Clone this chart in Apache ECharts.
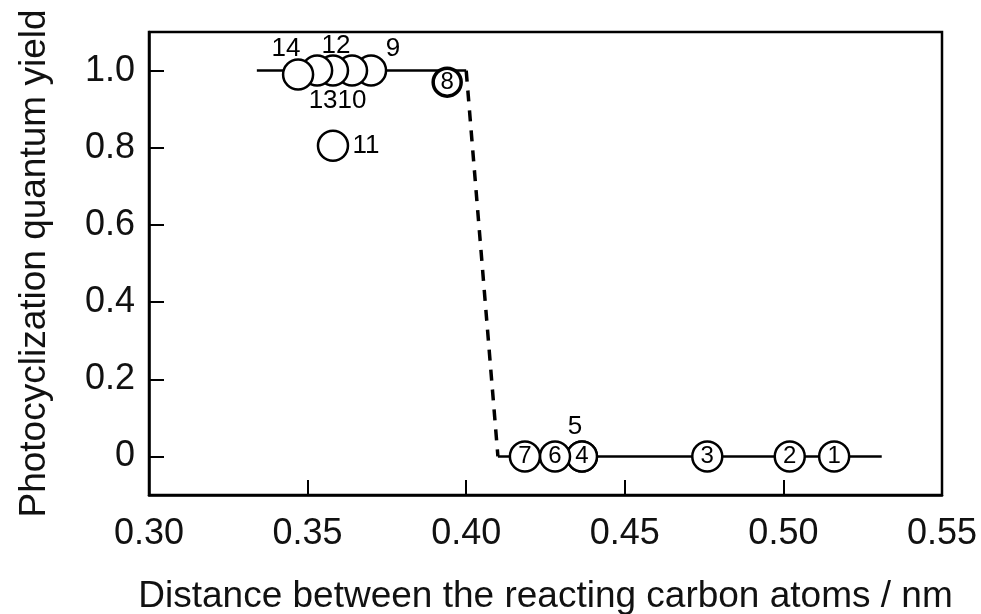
<!DOCTYPE html>
<html>
<head>
<meta charset="utf-8">
<script src="https://cdn.jsdelivr.net/npm/echarts@6/dist/echarts.min.js"></script>
<style>
html,body{margin:0;padding:0;background:#fff;}
#chart{width:981px;height:614px;}
</style>
</head>
<body>
<div id="chart"></div>
<script>
// ---- data ----
const compoundIds = ['14', '13', '12', '10', '9', '8', '11', '7', '6', '5', '4', '3', '2', '1'];
const distances   = [0.347, 0.353, 0.358, 0.364, 0.370, 0.394, 0.358, 0.4185, 0.428, 0.4365, 0.4365, 0.476, 0.502, 0.516];
const yields      = [0.99, 1.0, 1.0, 1.0, 1.0, 0.97, 0.805, 0, 0, 0, 0, 0, 0, 0];
// compounds whose number is written inside the circle
const numberedInside = ['8', '7', '6', '4', '3', '2', '1'];
// guide lines: solid upper, dashed drop, solid lower
const upperLine = [[0.334, 1.0], [0.400, 1.0]];
const dropLine  = [[0.400, 1.0], [0.410, 0.0]];
const lowerLine = [[0.410, 0.0], [0.531, 0.0]];
const xTicks = [0.30, 0.35, 0.40, 0.45, 0.50, 0.55];
const yTicks = [0, 0.2, 0.4, 0.6, 0.8, 1.0];

// ---- styling (label offsets for outside labels) ----
const labelOffsets = {
  '14': [-12, -26], '12': [3, -25], '9': [22, -22],
  '13': [6, 30], '10': [0, 30], '11': [33, 0], '5': [-7, -30]
};

const FONT = '"Liberation Sans", Arial, sans-serif';

const points = compoundIds.map((id, i) => ({ id, x: distances[i], y: yields[i] }));
// draw rightmost first so that left circles lie on top
points.sort((a, b) => b.x - a.x || (a.id === '5' ? -1 : 1));

const scatterData = points.map(p => {
  const inside = numberedInside.includes(p.id);
  return {
    name: p.id,
    value: [p.x, p.y],
    symbolSize: p.id === '8' ? 28 : 30,
    itemStyle: {
      color: '#fff',
      opacity: 1,
      borderColor: '#000',
      borderWidth: p.id === '8' ? 3.5 : 2.5
    },
    label: {
      show: true,
      formatter: p.id,
      position: 'inside',
      fontSize: inside ? 24 : 26,
      fontFamily: FONT,
      color: '#000',
      opacity: 1,
      offset: inside ? [0, 0] : (labelOffsets[p.id] || [0, 0])
    }
  };
});

const chart = echarts.init(document.getElementById('chart'), null, { renderer: 'canvas' });
chart.setOption({
  animation: false,
  backgroundColor: '#fff',
  grid: {
    left: 149, right: 39, top: 32, bottom: 119,
    outerBoundsMode: 'none',
    containLabel: false,
    show: true, borderColor: '#000', borderWidth: 2.5, backgroundColor: 'transparent'
  },
  xAxis: {
    type: 'value',
    min: 0.30, max: 0.55,
    name: 'Distance between the reacting carbon atoms / nm',
    nameLocation: 'middle',
    nameGap: 83,
    nameTextStyle: { fontSize: 37, fontFamily: FONT, color: '#111' },
    axisLine: { show: true, onZero: false, lineStyle: { color: '#000', width: 2.5 } },
    splitLine: { show: false },
    axisTick: {
      show: true, inside: true, length: 15,
      customValues: xTicks.slice(1, -1),
      lineStyle: { color: '#000', width: 2 }
    },
    axisLabel: {
      customValues: xTicks,
      showMinLabel: true, showMaxLabel: true,
      formatter: v => v.toFixed(2),
      fontSize: 36, fontFamily: FONT, color: '#111', margin: 21
    }
  },
  yAxis: {
    type: 'value',
    position: 'left',
    min: -0.1, max: 1.1,
    name: 'Photocyclization quantum yield',
    nameLocation: 'middle',
    nameGap: 96,
    nameTextStyle: { fontSize: 37, fontFamily: FONT, color: '#111' },
    axisLine: { show: true, onZero: false, lineStyle: { color: '#000', width: 2.5 } },
    splitLine: { show: false },
    axisTick: {
      show: true, inside: false, length: -15,
      customValues: yTicks,
      lineStyle: { color: '#000', width: 2 }
    },
    axisLabel: {
      customValues: yTicks,
      formatter: v => (v === 0 ? '0' : v.toFixed(1)),
      fontSize: 36, fontFamily: FONT, color: '#111', margin: 14
    }
  },
  series: [
    {
      type: 'line', data: upperLine, symbol: 'none', z: 1,
      lineStyle: { color: '#000', width: 2.5 }
    },
    {
      type: 'line', data: dropLine, symbol: 'none', z: 1,
      lineStyle: { color: '#000', width: 3.5, type: [11, 9] }
    },
    {
      type: 'line', data: lowerLine, symbol: 'none', z: 1,
      lineStyle: { color: '#000', width: 2.5 }
    },
    {
      type: 'scatter', z: 3,
      data: scatterData
    }
  ]
});
</script>
</body>
</html>
